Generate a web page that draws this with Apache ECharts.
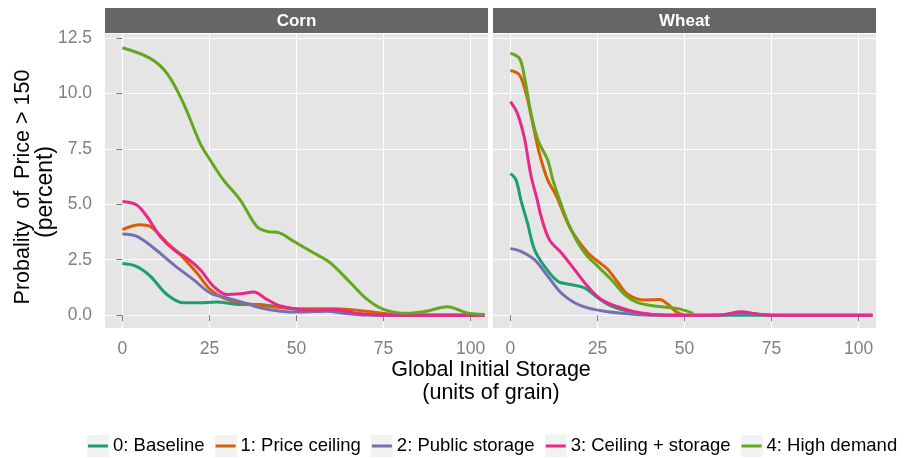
<!DOCTYPE html>
<html>
<head>
<meta charset="utf-8">
<script src="https://cdn.jsdelivr.net/npm/echarts@6/dist/echarts.min.js"></script>
<style>
  html, body { margin: 0; padding: 0; background: #fff; }
  #chart { width: 904px; height: 458px; }
</style>
</head>
<body>
<div id="chart"></div>
<script>
// Scenario names and colours (Dark2)
const scenarios = ['0: Baseline', '1: Price ceiling', '2: Public storage', '3: Ceiling + storage', '4: High demand'];
const colors = ['#1B9E77', '#D95F02', '#7570B3', '#E7298A', '#66A61E'];
const panels = ['Corn', 'Wheat'];

const xTicks = [0, 25, 50, 75, 100];
const yTicks = [0, 2.5, 5, 7.5, 10, 12.5];

// Corn: probability (%) of price > 150 against global initial storage
const cornBaselineX = [0, 4, 8, 12.8, 17.5, 22, 27, 34, 39, 43, 49, 55, 61, 66, 72, 80, 90, 100, 104];
const cornBaselineY = [2.33, 2.2, 1.76, 0.93, 0.56, 0.56, 0.59, 0.48, 0.48, 0.41, 0.29, 0.18, 0.22, 0.08, 0.02, 0, 0, 0, 0];
const cornCeilingX = [0, 5, 8, 12.8, 16.6, 21.4, 25.2, 29, 34, 41.5, 51, 61, 70, 76, 82, 90, 100, 104];
const cornCeilingY = [3.86, 4.08, 4.0, 3.26, 2.73, 1.9, 1.16, 0.78, 0.56, 0.41, 0.29, 0.29, 0.18, 0.06, 0, 0, 0, 0];
const cornStorageX = [0, 4, 9, 14.7, 20.4, 25.2, 30, 34.8, 39.6, 45.4, 51, 58.8, 63.6, 70, 80, 90, 100, 104];
const cornStorageY = [3.66, 3.56, 3.03, 2.28, 1.6, 1.0, 0.78, 0.56, 0.33, 0.18, 0.14, 0.18, 0.08, 0.01, 0, 0, 0, 0];
const cornBothX = [0, 4, 7, 10.8, 14.7, 18.5, 22.3, 26.2, 30, 33.9, 37.7, 41.5, 45.4, 51, 56, 61, 66.5, 72, 80, 90, 100, 104];
const cornBothY = [5.13, 4.98, 4.46, 3.56, 2.96, 2.58, 2.06, 1.3, 0.93, 0.96, 1.04, 0.71, 0.41, 0.26, 0.22, 0.26, 0.1, 0.02, 0, 0, 0, 0];
const cornDemandX = [0, 8, 12.8, 17.5, 22.3, 25.2, 29, 33.8, 38.6, 41.5, 45.3, 49.2, 55, 59.7, 65.5, 70.3, 75, 81.8, 87.5, 93.3, 99, 104];
const cornDemandY = [12.06, 11.58, 10.9, 9.56, 7.76, 7.0, 6.1, 5.2, 4.0, 3.78, 3.7, 3.33, 2.8, 2.36, 1.46, 0.71, 0.26, 0.08, 0.18, 0.38, 0.1, 0.03];

// Wheat
const wheatBaselineX = [0, 1.6, 3, 4.9, 6.9, 9.8, 13.6, 17.4, 21.3, 25.1, 29, 33.8, 38, 45, 55, 65, 75, 85, 95, 104];
const wheatBaselineY = [6.38, 6.1, 5.2, 4.16, 2.96, 2.2, 1.53, 1.38, 1.23, 0.78, 0.41, 0.18, 0.05, 0, 0, 0, 0, 0, 0, 0];
const wheatCeilingX = [0, 2.6, 4.5, 6.4, 8.3, 10.7, 13.1, 17.4, 22.2, 25.1, 28, 30.9, 33.8, 38.6, 42.9, 45.3, 47.7, 50];
const wheatCeilingY = [11.03, 10.83, 10.0, 8.66, 7.31, 6.1, 5.4, 3.86, 2.81, 2.43, 2.06, 1.46, 0.93, 0.68, 0.71, 0.48, 0.14, 0];
const wheatStorageX = [0, 3, 6.9, 10.7, 14.6, 18.4, 22.2, 27, 33.8, 40, 50, 60, 63, 67, 71, 75, 85, 95, 104];
const wheatStorageY = [3.0, 2.88, 2.5, 1.76, 1.0, 0.56, 0.33, 0.18, 0.06, 0, 0, 0, 0.05, 0.1, 0.05, 0, 0, 0, 0];
const wheatBothX = [0, 2, 4, 5.9, 7.7, 8.8, 11.2, 14.6, 18.4, 22.2, 26.1, 31.8, 37.6, 45, 55, 61, 66.3, 71, 76, 85, 95, 104];
const wheatBothY = [9.63, 9.1, 8.0, 6.3, 5.2, 4.46, 3.4, 2.81, 2.06, 1.3, 0.71, 0.33, 0.1, 0, 0, 0.02, 0.15, 0.04, 0, 0, 0, 0];
const wheatDemandX = [0, 2.6, 4, 5.9, 7.9, 10.7, 12.2, 14.1, 17.4, 21.3, 25.1, 29, 32.8, 36.6, 41.4, 46.2, 49.1, 52.5];
const wheatDemandY = [11.81, 11.58, 10.76, 9.1, 7.9, 7.0, 6.1, 5.2, 3.86, 2.81, 2.2, 1.6, 0.93, 0.56, 0.41, 0.33, 0.26, 0.08];

const seriesData = [
  [[cornBaselineX, cornBaselineY], [cornCeilingX, cornCeilingY], [cornStorageX, cornStorageY], [cornBothX, cornBothY], [cornDemandX, cornDemandY]],
  [[wheatBaselineX, wheatBaselineY], [wheatCeilingX, wheatCeilingY], [wheatStorageX, wheatStorageY], [wheatBothX, wheatBothY], [wheatDemandX, wheatDemandY]]
];

const FONT = 'Liberation Sans, Arial, sans-serif';
const panelLeft = [105, 493];
const panelWidth = 383;
const panelTop = 34;
const panelHeight = 294;

// Legend key: grey box with a coloured line segment
function keyIcon(color) {
  const c = document.createElement('canvas');
  c.width = 22; c.height = 22;
  const g = c.getContext('2d');
  g.fillStyle = '#F2F2F2';
  g.fillRect(0, 0, 22, 22);
  g.fillStyle = color;
  g.fillRect(1, 9.5, 20, 3);
  return 'image://' + c.toDataURL();
}

const grids = panels.map((p, i) => ({
  left: panelLeft[i], top: panelTop, width: panelWidth, height: panelHeight,
  show: true, backgroundColor: '#E5E5E5', borderWidth: 0
}));

const xAxes = panels.map((p, i) => ({
  type: 'value', gridIndex: i, min: -5, max: 105,
  axisLine: { show: false },
  axisTick: { show: true, length: 6, customValues: xTicks, lineStyle: { color: '#7F7F7F', width: 1 } },
  axisLabel: { customValues: xTicks, color: '#7F7F7F', fontFamily: FONT, fontSize: 17.5, margin: 12 },
  splitLine: { show: true, lineStyle: { color: '#FFFFFF', width: 1.2 } }
}));

const yAxes = panels.map((p, i) => ({
  type: 'value', gridIndex: i, min: -0.58, max: 12.68,
  axisLine: { show: false },
  axisTick: { show: i === 0, length: 6, customValues: yTicks, lineStyle: { color: '#7F7F7F', width: 1 } },
  axisLabel: { show: i === 0, customValues: yTicks, color: '#7F7F7F', fontFamily: FONT, fontSize: 17.5, margin: 13,
    formatter: v => v.toFixed(1) },
  splitLine: { show: true, lineStyle: { color: '#FFFFFF', width: 1.2 } }
}));

const series = [];
panels.forEach((p, i) => {
  scenarios.forEach((name, k) => {
    const [xs, ys] = seriesData[i][k];
    series.push({
      type: 'line', name, xAxisIndex: i, yAxisIndex: i,
      data: xs.map((x, j) => [x, ys[j]]),
      smooth: 0.35, showSymbol: false, symbol: 'none',
      lineStyle: { color: colors[k], width: 3 },
      itemStyle: { color: colors[k] },
      z: 2 + k, silent: true, animation: false
    });
  });
});

const graphics = [];
panels.forEach((p, i) => {
  graphics.push({
    type: 'rect', left: panelLeft[i], top: 8,
    shape: { width: panelWidth, height: 25 },
    style: { fill: '#666666' }, silent: true
  });
  graphics.push({
    type: 'text', x: panelLeft[i] + panelWidth / 2, y: 21,
    style: { text: p, fill: '#FFFFFF', font: 'bold 17px ' + FONT, textAlign: 'center', textVerticalAlign: 'middle' },
    silent: true
  });
});
// axis titles
graphics.push({
  type: 'text', x: 23, y: 187, rotation: Math.PI / 2,
  style: { text: 'Probality  of  Price > 150', fill: '#000', font: '21.5px ' + FONT, textAlign: 'center', textVerticalAlign: 'middle' },
  silent: true
});
graphics.push({
  type: 'text', x: 46, y: 192, rotation: Math.PI / 2,
  style: { text: '(percent)', fill: '#000', font: '23px ' + FONT, textAlign: 'center', textVerticalAlign: 'middle' },
  silent: true
});
graphics.push({
  type: 'text', x: 491, y: 370,
  style: { text: 'Global Initial Storage', fill: '#000', font: '21.5px ' + FONT, textAlign: 'center', textVerticalAlign: 'middle' },
  silent: true
});
graphics.push({
  type: 'text', x: 491, y: 393,
  style: { text: '(units of grain)', fill: '#000', font: '21.5px ' + FONT, textAlign: 'center', textVerticalAlign: 'middle' },
  silent: true
});

const chart = echarts.init(document.getElementById('chart'), null, { renderer: 'canvas' });
chart.setOption({
  animation: false,
  backgroundColor: '#FFFFFF',
  grid: grids,
  xAxis: xAxes,
  yAxis: yAxes,
  legend: {
    top: 435, left: 87, orient: 'horizontal', padding: 0,
    itemWidth: 22, itemHeight: 22, itemGap: 10,
    data: scenarios.map((n, k) => ({ name: n, icon: keyIcon(colors[k]) })),
    textStyle: { color: '#000', fontFamily: FONT, fontSize: 18.5, padding: [0, 0, 0, -1] },
    selectedMode: false
  },
  series,
  graphic: graphics
});
</script>
</body>
</html>
